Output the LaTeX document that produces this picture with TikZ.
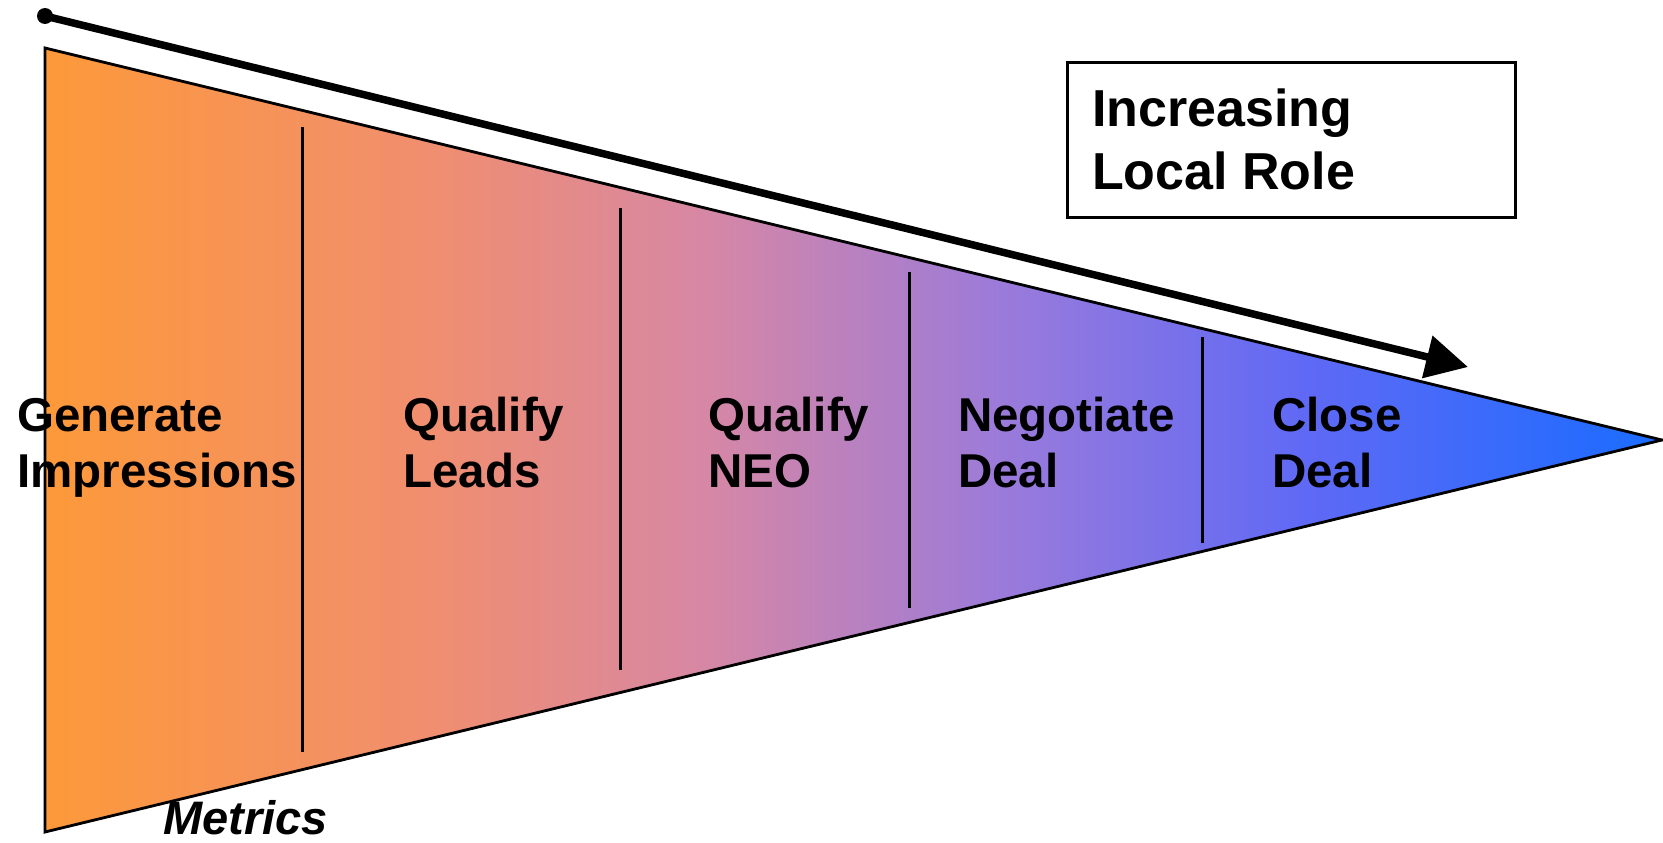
\documentclass[tikz,border=0pt]{standalone}
\usepackage{fontspec}
\setmainfont{Liberation Sans}
\usetikzlibrary{arrows.meta}

\definecolor{fun0}{RGB}{253,153,57}
\definecolor{fun1}{RGB}{240,142,112}
\definecolor{fun2}{RGB}{214,135,165}
\definecolor{fun3}{RGB}{152,122,220}
\definecolor{fun4}{RGB}{95,105,245}
\definecolor{fun5}{RGB}{25,108,255}
\pgfdeclarehorizontalshading{funnelshade}{100bp}{color(0bp)=(fun0); color(25bp)=(fun0);
	color(37bp)=(fun1); color(45.5bp)=(fun2); color(55bp)=(fun3); color(64bp)=(fun4);
	color(75bp)=(fun5); color(100bp)=(fun5)}

\begin{document}
\begin{tikzpicture}[x=1pt, y=-1pt,
	stage/.style={font=\fontsize{47.5}{56}\selectfont\bfseries, align=left, anchor=base west, inner sep=0pt},
	divider/.style={line width=3pt}]
	\useasboundingbox (0,0) rectangle (1663,843);
	% funnel
	\coordinate (ftop) at (45,48);
	\coordinate (fbot) at (45,832);
	\coordinate (ftip) at (1662,440);
	\draw[line width=2.8pt, line join=miter, shading=funnelshade] (ftop) -- (ftip) -- (fbot) -- cycle;
	\draw[divider]
		(302,127) -- (302,752)
		(620,208) -- (620,670)
		(909,272) -- (909,608)
		(1202,337) -- (1202,543);
	% stages (base = last line)
	\node[stage] (gen) at (17,487) {Generate\\Impressions};
	\node[stage] (leads) at (403,487) {Qualify\\Leads};
	\node[stage] (neo) at (708,487) {Qualify\\NEO};
	\node[stage] (deal) at (958,487) {Negotiate\\Deal};
	\node[stage] (close) at (1272,487) {Close\\Deal};
	\node[font=\fontsize{47}{56}\selectfont\bfseries\itshape, anchor=base west, inner sep=0pt] (metrics) at (163,834) {Metrics};
	% local role
	\coordinate (rstart) at (45,16);
	\coordinate (rend) at (1468,367);
	\fill (rstart) circle (8);
	\draw[line width=7.5pt, -{Triangle[length=42pt, width=42pt]}] (rstart) -- (rend);
	\draw[line width=3pt] (1067,63) rectangle (1515,217);
	\node[stage, font=\fontsize{52}{63}\selectfont\bfseries] (role) at (1092,189) {Increasing\\Local Role};
\end{tikzpicture}
\end{document}
